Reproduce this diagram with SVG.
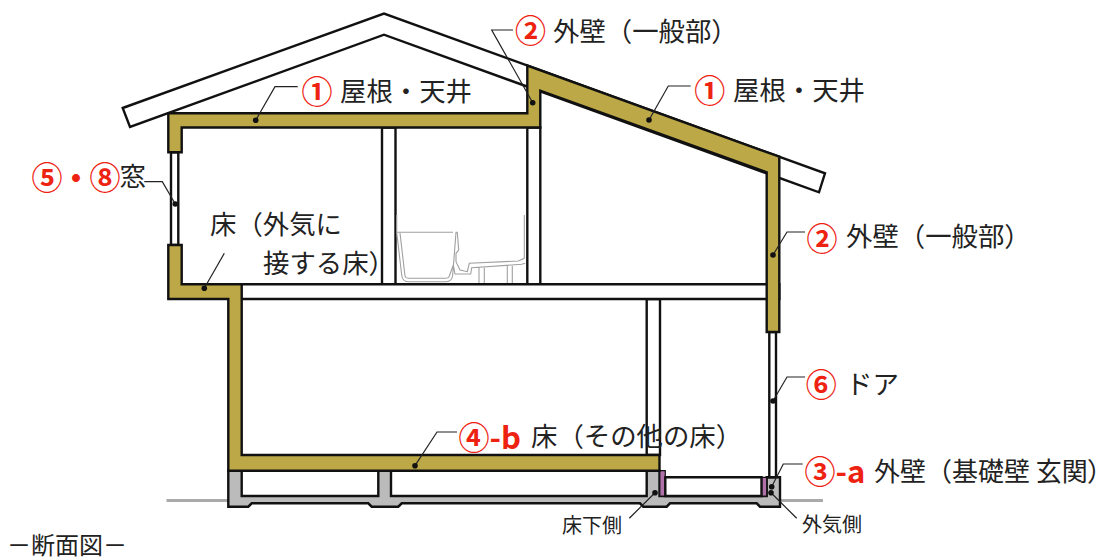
<svg xmlns="http://www.w3.org/2000/svg" width="1103" height="560" viewBox="0 0 1103 560">
<style>
text{font-family:"Noto Sans CJK JP","Noto Sans",sans-serif;fill:#222;font-size:26.400px}
.n{fill:#ee2211;font-weight:700;font-size:31px;font-family:"Noto Sans CJK JP","Liberation Sans",sans-serif}
.s{font-size:20px}
.o{stroke:#111;stroke-width:2.4;stroke-linejoin:miter}
.g{fill:#bca846}.c{fill:#bbbbbb}.w{fill:#fff}.p{fill:#b070a8}
.l{fill:none;stroke:#222;stroke-width:1.2}
.d{fill:#111}
.b{fill:none;stroke:#a0a0a0;stroke-width:1.1}
</style>
<rect width="1103" height="560" fill="#fff"/>
<g id="structure">
<path d="M166.500 500.500H228M780 500.500H823" style="fill:none;stroke:#aaa;stroke-width:3"/>
<path class="o w" d="M122.700 108L384 13.500L825 173.300L819 192.300L384 34.700L130 127Z"/>
<path class="o c" d="M228.300 470.700V506.700H248.300L251.700 503.300H368.300L371.700 506.700H398.300L401.700 503.300H640L643.300 506.700H666.700L670 503.300H756.700L760 506.700H780V477.300H766.700V496H659.500V470.700H646.700V496H391V470.700H378.300V496H241.700V470.700Z"/>
<path class="o p" d="M659.800 470.700H665.300V496H659.800Z" style="stroke-width:1.2"/>
<path class="o p" d="M761.500 477.300H766.700V496H761.500Z" style="stroke-width:1.2"/>
<path class="o w" d="M665.300 477.300H761.500V496H665.300Z"/>
<path class="o w" d="M382 127.500H395.500V284.300H382ZM527.300 127.500H540.300V284.300H527.300ZM646.700 299H660V455H646.700Z"/>
<path class="o w" d="M241 284.300H779.300V299H241Z"/>
<path class="o w" d="M769.300 332H776V477.300H769.300Z"/>
<path class="o w" d="M171 152.300H178.300V245H171Z"/>
<path class="o g" d="M168.300 113.300H527.300V65.500L779.300 156.700V332H766.700V172.300L540.300 90.700V127.500H181.700V152.300H168.300Z"/>
<path class="o g" d="M168.300 245H181.700V284.300H241.700V455H659.500V470.700H228.300V299H168.300Z"/>
<path class="b" d="M396.700 215V232.300L401.700 275Q402.500 281.700 408 281.700H446Q452 281.700 452.700 275L456 232.300H457.300L458.700 250L456 253.300V261.700L460 270L467.300 271.700L469.300 263.300L518.300 261L524.300 258.300V215M396.700 232.300H453M400 233L405 276Q405.500 278.300 409 278.300H445Q449 278.300 449.300 276L453.300 265L455 274H470.700L471.700 267.700L521.700 264.300L525.300 263.300M479 267.700V283M484.300 267.700V283M507.300 266V283M512.300 266V283"/>
</g>
<g id="connectors">
<path class="l" d="M297.700 86.700H275L255.700 120.300"/><circle class="d" cx="255.700" cy="120.300" r="2.800"/>
<path class="l" d="M513 30H491.700L532.700 102.700"/><circle class="d" cx="532.700" cy="102.700" r="2.800"/>
<path class="l" d="M690.700 86H668.300L649 120"/><circle class="d" cx="649" cy="120" r="2.800"/>
<path class="l" d="M144.300 181.700H162.300L175.300 204"/><circle class="d" cx="175.300" cy="204" r="2.800"/>
<path class="l" d="M224.300 253.300L204.300 288.300"/><circle class="d" cx="204.300" cy="288.300" r="2.800"/>
<path class="l" d="M805 232H787L773 255"/><circle class="d" cx="773" cy="255" r="2.800"/>
<path class="l" d="M805 377H787L773 401"/><circle class="d" cx="773" cy="401" r="2.800"/>
<path class="l" d="M457 432H437L415 465.700"/><circle class="d" cx="415" cy="465.700" r="2.800"/>
<path class="l" d="M802.700 464H783.300L771.700 486.700"/><circle class="d" cx="771.700" cy="486.700" r="2.800"/>
<path class="l" d="M796.700 518.300L771 492.700"/><circle class="d" cx="771" cy="492.700" r="2.800"/>
<path class="l" d="M629.300 518.300L655 492.700"/><circle class="d" cx="655" cy="492.700" r="2.800"/>
</g>
<g id="labels">
<g id="label-roof-left"><text class="n" x="301.500" y="102.600">①</text><text x="340" y="101">屋根・天井</text></g>
<g id="label-wall-top"><text class="n" x="515" y="42.400">②</text><text x="553" y="41">外壁（一般部）</text></g>
<g id="label-roof-right"><text class="n" x="694.200" y="102">①</text><text x="733" y="100">屋根・天井</text></g>
<g id="label-window"><text class="n" x="31.500" y="188.700">⑤</text><text class="n" x="60.500" y="188.700">・</text><text class="n" x="89.500" y="188.700">⑧</text><text x="119.500" y="185.500">窓</text></g>
<g id="label-floor-ext"><text x="210" y="234">床（外気に</text><text x="263" y="273">接する床）</text></g>
<g id="label-wall-right"><text class="n" x="806.500" y="249.600">②</text><text x="846" y="246">外壁（一般部）</text></g>
<g id="label-door"><text class="n" x="805.800" y="396.300">⑥</text><text x="846" y="394">ドア</text></g>
<g id="label-floor-other"><text class="n" x="458.500" y="448.600">④-b</text><text x="531" y="446">床（その他の床）</text></g>
<g id="label-base"><text class="n" x="804.500" y="483.300">③-a</text><text x="874" y="481" style="font-size:26px">外壁（基礎壁 玄関<tspan style="font-feature-settings:'palt'">）</tspan></text></g>
<text class="s" x="562" y="533">床下側</text>
<text class="s" x="802" y="532">外気側</text>
<text x="7" y="553.500" style="font-size:24px">－断面図－</text>
</g>
</svg>
